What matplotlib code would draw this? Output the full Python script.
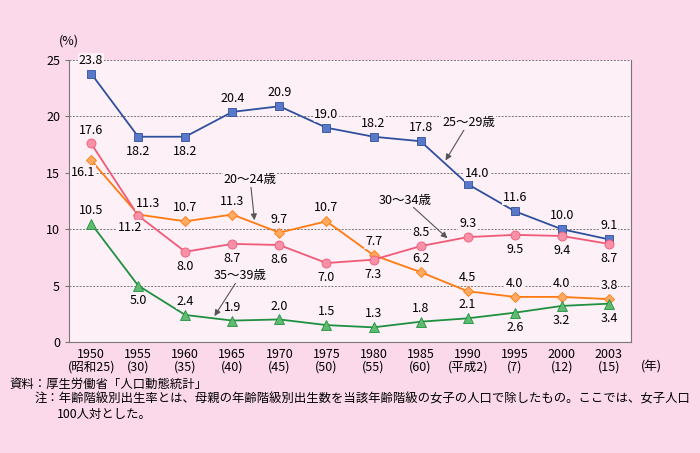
import matplotlib.pyplot as plt

plt.rcParams['font.family'] = ['Noto Sans CJK JP', 'DejaVu Sans']

years = ['1950\n(昭和25)', '1955\n(30)', '1960\n(35)', '1965\n(40)', '1970\n(45)', '1975\n(50)',
         '1980\n(55)', '1985\n(60)', '1990\n(平成2)', '1995\n(7)', '2000\n(12)', '2003\n(15)']

age_25_29 = [23.8, 18.2, 18.2, 20.4, 20.9, 19.0, 18.2, 17.8, 14.0, 11.6, 10.0, 9.1]
age_20_24 = [16.1, 11.3, 10.7, 11.3, 9.7, 10.7, 7.7, 6.2, 4.5, 4.0, 4.0, 3.8]
age_30_34 = [17.6, 11.2, 8.0, 8.7, 8.6, 7.0, 7.3, 8.5, 9.3, 9.5, 9.4, 8.7]
age_35_39 = [10.5, 5.0, 2.4, 1.9, 2.0, 1.5, 1.3, 1.8, 2.1, 2.6, 3.2, 3.4]

# where each value label goes: a = above, b = below, l = left-below, r = above-right
pos_25_29 = 'abbaaaaaraaa'
pos_20_24 = 'lraaaaaaaaaa'
pos_30_34 = 'albbbbbaabbb'
pos_35_39 = 'abaaaaaaabbb'

fig_bg = '#fcd9ea'
ax_bg = '#fdf0f6'

fig = plt.figure(figsize=(7, 4.53), dpi=100, facecolor=fig_bg)
ax = fig.add_axes([0.0986, 0.245, 0.8028, 0.6225], facecolor=ax_bg)

x = list(range(len(years)))
series = [
    (age_25_29, pos_25_29, '#2f4f9f', '#5a78c8', 's', 6),
    (age_20_24, pos_20_24, '#ff7a10', '#ffaa60', 'D', 5.5),
    (age_30_34, pos_30_34, '#f05a78', '#f890a8', 'o', 6.5),
    (age_35_39, pos_35_39, '#1e9040', '#60bb70', '^', 6.5),
]

offsets = {
    'a': ((0, 5), 'center', 'bottom'),
    'b': ((0, -6), 'center', 'top'),
    'l': ((-6, -4), 'center', 'top'),
    'r': ((7, 3), 'center', 'bottom'),
}

for vals, pos, c, mc, m, ms in series:
    ax.plot(x, vals, color=c, lw=1.3, marker=m, ms=ms, mfc=mc, mec=c, mew=0.6, zorder=3)
    for i, v in enumerate(vals):
        xy, ha, va = offsets[pos[i]]
        ax.annotate(f'{v:.1f}', (i, v), xytext=xy, textcoords='offset points',
                    ha=ha, va=va, fontsize=9, color='black', zorder=4,
                    bbox=dict(facecolor=ax_bg, edgecolor='none', pad=0.5))

# series names with arrows
names = [
    ('25〜29歳', (8.02, 18.9), (7.53, 16.1)),
    ('20〜24歳', (3.38, 13.8), (3.47, 10.8)),
    ('30〜34歳', (6.68, 12.0), (7.57, 9.2)),
    ('35〜39歳', (3.17, 5.3), (2.62, 2.3)),
]
for txt, tpos, tip in names:
    ax.annotate(txt, xy=tip, xytext=tpos, ha='center', va='bottom', fontsize=9, zorder=5,
                bbox=dict(facecolor=ax_bg, edgecolor='none', pad=0.5),
                arrowprops=dict(arrowstyle='-|>', color='#555555', lw=0.8,
                                mutation_scale=9, shrinkA=0, shrinkB=0))

ax.set_xlim(-0.47, 11.47)
ax.set_ylim(0, 25)
ax.set_yticks([0, 5, 10, 15, 20, 25])
ax.set_xticks(x)
ax.set_xticklabels(years, fontsize=9, linespacing=1.0)
ax.tick_params(axis='y', labelsize=9, length=3, color='#777777')
ax.tick_params(axis='x', length=0, pad=4)
ax.grid(axis='y', color='#777777', ls=(0, (2, 1.5)), lw=0.7)
ax.set_axisbelow(True)
ax.spines['top'].set_visible(False)
for s in ['left', 'bottom', 'right']:
    ax.spines[s].set_color('#777777')

fig.text(0.0986, 0.895, '(%)', ha='center', va='bottom', fontsize=9)
fig.text(0.915, 0.19, '(年)', ha='left', va='center', fontsize=9)

fig.text(0.014, 0.152, '資料：厚生労働省「人口動態統計」', fontsize=8.9, va='center')
fig.text(0.05, 0.119, '注：年齢階級別出生率とは、母親の年齢階級別出生数を当該年齢階級の女子の人口で除したもの。ここでは、女子人口',
         fontsize=8.9, va='center')
fig.text(0.082, 0.085, '100人対とした。', fontsize=8.9, va='center')

fig.savefig('out.png', dpi=100, facecolor=fig_bg)
